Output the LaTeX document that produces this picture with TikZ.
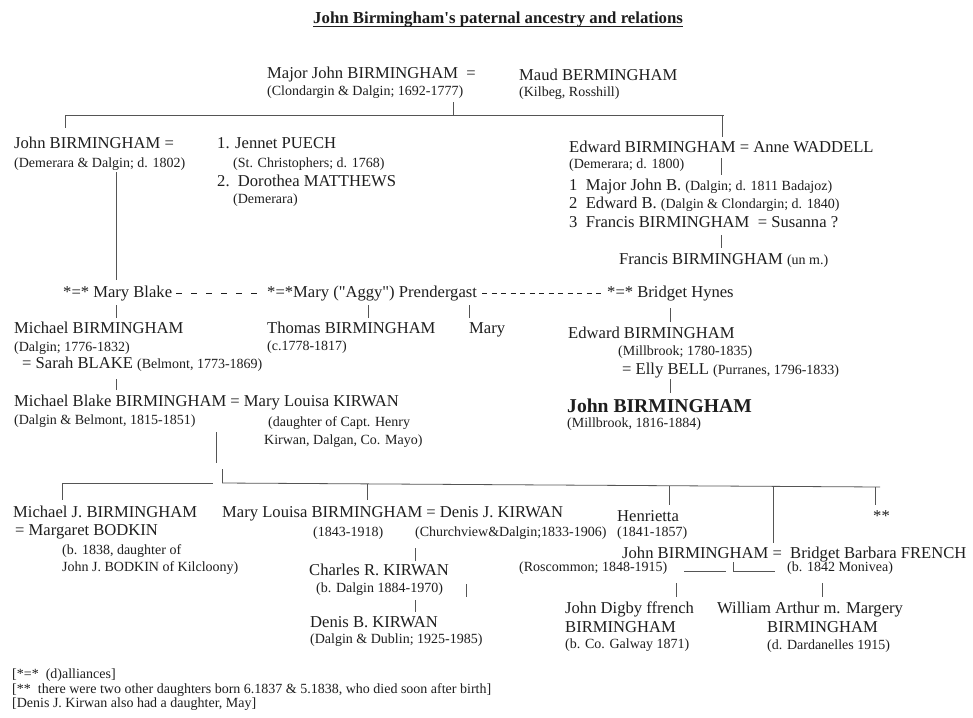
\documentclass[tikz,border=0pt]{standalone}
\usepackage{fontspec}
\setmainfont{Liberation Serif}[Ligatures=TeXOff]
\definecolor{ink}{HTML}{1E1E1E}
\definecolor{rule}{HTML}{555555}
\newcommand\bigf{\fontsize{16.6}{18}\selectfont}
\newcommand\smf{\fontsize{14}{16}\selectfont}
\newcommand\smt[1]{{\smf #1}}
\newcommand\myvbar[4]{\coordinate (#1a) at (#2,#3); \coordinate (#1b) at (#2,#4); \draw[ln] (#1a) -- (#1b);}
\newcommand\myhbar[4]{\coordinate (#1a) at (#2,#4); \coordinate (#1b) at (#3,#4); \draw[ln] (#1a) -- (#1b);}
\begin{document}
\begin{tikzpicture}[x=1pt,y=-1pt,
  tx/.style={inner sep=0pt, anchor=west, text=ink},
  big/.style={tx, font=\bigf, text height=11.3pt, text depth=0pt},
  sm/.style={tx, font=\smf, text height=9.5pt, text depth=0pt},
  bold/.style={tx, font=\fontsize{19.6}{22}\selectfont\bfseries, text height=13.3pt, text depth=0pt},
  ttl/.style={tx, font=\fontsize{16.8}{19}\selectfont\bfseries, text height=11.4pt, text depth=0pt},
  ln/.style={draw=rule, line width=0.8pt},
  dotsA/.style={draw=ink, line width=1pt, dash pattern=on 5.5pt off 9.5pt},
  dotsB/.style={draw=ink, line width=1pt, dash pattern=on 5pt off 4.5pt}]
\useasboundingbox[fill=white] (0,0) rectangle (973,717);

% title
\node[ttl] (title) at (313,18) {John Birmingham's paternal ancestry and relations};
\draw[draw=ink, line width=0.8pt] ([yshift=-2.8pt]title.base west) -- ([yshift=-2.8pt]title.base east);

% generation 1
\node[big] (mj) at (267,73) {Major John BIRMINGHAM\ \ =};
\node[sm] (mjd) at (267,91) {(Clondargin \& Dalgin; 1692-1777)};
\node[big] (maud) at (519,75) {Maud BERMINGHAM};
\node[sm] (maudd) at (519,92) {(Kilbeg, Rosshill)};
\myhbar{g1}{65}{724}{115}
\myvbar{g1t}{453}{102}{115}
\myvbar{g1l}{65}{115}{128}
\myvbar{g1r}{722}{115}{137}

% generation 2
\node[big] (jb1) at (14,143) {John BIRMINGHAM =};
\node[sm] (jb1d) at (14,163) {(Demerara \& Dalgin; d. 1802)};
\node[big] (w1) at (217,143) {1. Jennet PUECH};
\node[sm] (w1d) at (233,163) {(St. Christophers; d. 1768)};
\node[big] (w2) at (217,181) {2.\ \ Dorothea MATTHEWS};
\node[sm] (w2d) at (233,199) {(Demerara)};

\node[big] (ew) at (569,147) {Edward BIRMINGHAM = Anne WADDELL};
\node[sm] (ewd) at (569,164) {(Demerara; d. 1800)};
\myvbar{ewv}{721}{158}{175}
\node[big] (e1) at (569,185) {1\ \ Major John B. \smt{(Dalgin; d. 1811 Badajoz)}};
\node[big] (e2) at (569,203) {2\ \ Edward B. \smt{(Dalgin \& Clondargin; d. 1840)}};
\node[big] (e3) at (569,222) {3\ \ Francis BIRMINGHAM\ \ = Susanna ?};
\myvbar{fv}{721}{235}{248}
\node[big] (fb) at (619,259) {Francis BIRMINGHAM \smt{(un m.)}};

\myvbar{jbv}{116}{172}{280}

% dalliances row
\node[big] (blake) at (63,292) {*=* Mary Blake};
\node[big] (aggy) at (267,292) {*=*Mary ("Aggy") Prendergast};
\node[big] (hynes) at (607,292) {*=* Bridget Hynes};
\draw[dotsA] ([xshift=4pt,yshift=-1.5pt]blake.east) -- ([xshift=-8pt,yshift=-1.5pt]aggy.west);
\draw[dotsB] ([xshift=5pt,yshift=-1.5pt]aggy.east) -- ([xshift=-3pt,yshift=-1.5pt]hynes.west);
\myvbar{bv}{116}{305}{318}
\myvbar{av}{368}{305}{318}
\myvbar{mv}{469}{305}{318}
\myvbar{hv}{670}{308}{322}

% generation 3
\node[big] (mich) at (14,328) {Michael BIRMINGHAM};
\node[sm] (michd) at (14,347) {(Dalgin; 1776-1832)};
\node[big] (sarah) at (22,363) {= Sarah BLAKE \smt{(Belmont, 1773-1869)}};
\node[big] (thom) at (267,328) {Thomas BIRMINGHAM};
\node[sm] (thomd) at (267,346) {(c.1778-1817)};
\node[big] (mary) at (469,328) {Mary};
\node[big] (edw) at (568,333) {Edward BIRMINGHAM};
\node[sm] (edwd) at (618,351) {(Millbrook; 1780-1835)};
\node[big] (elly) at (622,369) {= Elly BELL \smt{(Purranes, 1796-1833)}};
\myvbar{ev}{670}{379}{393}
\node[bold] (john) at (567,406) {John BIRMINGHAM};
\node[sm] (johnd) at (567,423) {(Millbrook, 1816-1884)};

\myvbar{mbv}{116}{379}{390}
\node[big] (mbb) at (14,401) {Michael Blake BIRMINGHAM = Mary Louisa KIRWAN};
\node[sm] (mbbd) at (14,420) {(Dalgin \& Belmont, 1815-1851)};
\node[sm] (mlk1) at (268,422) {(daughter of Capt. Henry};
\node[sm] (mlk2) at (264,440) {Kirwan, Dalgan, Co. Mayo)};
\myvbar{mbl}{216}{432}{463}

% children line
\myhbar{cl1}{62}{213}{483}
\coordinate (cl2a) at (222,483); \coordinate (cl2b) at (880,487);
\draw[ln] (cl2a) -- (cl2b);
\myvbar{clt}{222}{469}{483}
\myvbar{c1v}{62}{483}{500}
\myvbar{c2v}{367}{484}{500}
\myvbar{c3v}{669}{486}{505}
\myvbar{c4v}{773}{486}{543}
\myvbar{c5v}{875}{487}{505}

% generation 4
\node[big] (mjb) at (13,512) {Michael J. BIRMINGHAM};
\node[big] (mbod) at (15,530) {= Margaret BODKIN};
\node[sm] (mbodd1) at (62,550) {(b. 1838, daughter of};
\node[sm] (mbodd2) at (62,567) {John J. BODKIN of Kilcloony)};
\node[big] (mlb) at (222,512) {Mary Louisa BIRMINGHAM = Denis J. KIRWAN};
\node[sm] (mlbd) at (313,532) {(1843-1918)};
\node[sm] (djk) at (415,532) {(Churchview\&Dalgin;1833-1906)};
\node[big] (henr) at (617,516) {Henrietta};
\node[sm] (henrd) at (617,532) {(1841-1857)};
\node[big] (stars) at (873,516) {**};
\node[big] (jb4) at (622,553) {John BIRMINGHAM =};
\node[big] (bbf) at (790,553) {Bridget Barbara FRENCH};
\node[sm] (jb4d) at (519,567) {(Roscommon; 1848-1915)};
\node[sm] (bbfd) at (787,567) {(b. 1842 Monivea)};
\myhbar{u1}{684}{726}{571}
\myhbar{u2}{733}{775}{571}
\myvbar{ut}{733}{562}{571}
\myvbar{g5a}{676}{583}{597}
\myvbar{g5b}{822}{583}{597}

% generation 5 (French line)
\node[big] (jdf) at (565,608) {John Digby ffrench};
\node[big] (jdf2) at (565,627) {BIRMINGHAM};
\node[sm] (jdfd) at (565,644) {(b. Co. Galway 1871)};
\node[big] (waf) at (717,608) {William Arthur m. Margery};
\node[big] (waf2) at (767,627) {BIRMINGHAM};
\node[sm] (wafd) at (767,645) {(d. Dardanelles 1915)};

% Kirwan line
\myvbar{kv1}{415}{548}{561}
\node[big] (crk) at (309,570) {Charles R. KIRWAN};
\node[sm] (crkd) at (316,588) {(b. Dalgin 1884-1970)};
\myvbar{kv2}{466}{584}{597}
\myvbar{kv3}{415}{600}{612}
\node[big] (dbk) at (310,622) {Denis B. KIRWAN};
\node[sm] (dbkd) at (310,639) {(Dalgin \& Dublin; 1925-1985)};

% footnotes
\node[sm] (f1) at (12,674) {[*=*\ \ (d)alliances]};
\node[sm] (f2) at (12,689) {[**\ \ there were two other daughters born 6.1837 \& 5.1838, who died soon after birth]};
\node[sm] (f3) at (12,703) {[Denis J. Kirwan also had a daughter, May]};
\end{tikzpicture}
\end{document}
